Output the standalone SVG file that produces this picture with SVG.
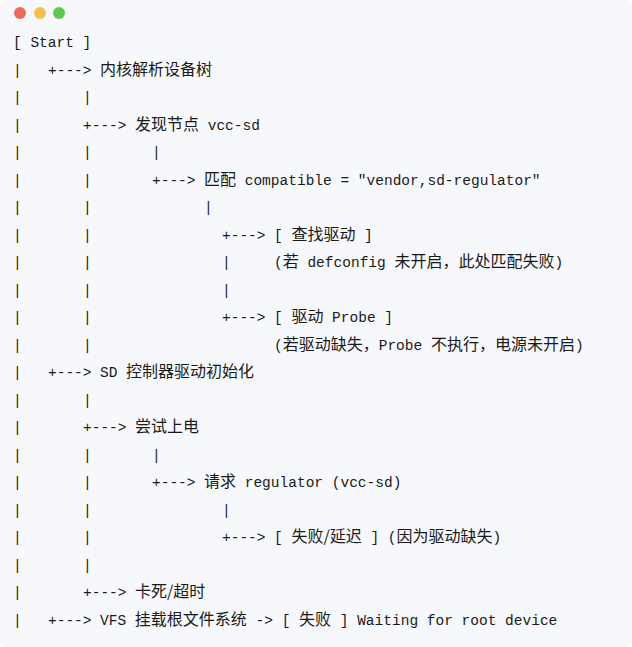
<svg xmlns="http://www.w3.org/2000/svg" width="632" height="647" viewBox="0 0 632 647">
<style>
text{font-family:"Liberation Mono","DejaVu Sans Mono",monospace;font-size:14.5px;fill:#1a1a1a;white-space:pre}
.c{font-family:"Noto Sans CJK SC","Noto Sans",sans-serif;font-size:16px}
</style>
<rect x="0" y="0" width="632" height="647" rx="8" fill="#f7f8fb"/>
<g id="window-dots">
<circle cx="20" cy="13" r="6" fill="#ed6a5e"/>
<circle cx="40" cy="13" r="6" fill="#f5bf4f"/>
<circle cx="59" cy="13" r="6" fill="#61c554"/>
</g>
<g id="connectors">
<text x="13" y="74.5">|</text><text x="48" y="74.5">+---&gt;</text>
<text x="13" y="102">|</text><text x="83" y="102">|</text>
<text x="13" y="129.6">|</text><text x="83" y="129.6">+---&gt;</text>
<text x="13" y="157.1">|</text><text x="83" y="157.1">|</text><text x="152" y="157.1">|</text>
<text x="13" y="184.6">|</text><text x="83" y="184.6">|</text><text x="152" y="184.6">+---&gt;</text>
<text x="13" y="212.1">|</text><text x="83" y="212.1">|</text><text x="204" y="212.1">|</text>
<text x="13" y="239.6">|</text><text x="83" y="239.6">|</text><text x="222" y="239.6">+---&gt;</text>
<text x="13" y="267.2">|</text><text x="83" y="267.2">|</text><text x="222" y="267.2">|</text>
<text x="13" y="294.7">|</text><text x="83" y="294.7">|</text><text x="222" y="294.7">|</text>
<text x="13" y="322.2">|</text><text x="83" y="322.2">|</text><text x="222" y="322.2">+---&gt;</text>
<text x="13" y="349.7">|</text><text x="83" y="349.7">|</text>
<text x="13" y="377.2">|</text><text x="48" y="377.2">+---&gt;</text>
<text x="13" y="404.7">|</text><text x="83" y="404.7">|</text>
<text x="13" y="432.2">|</text><text x="83" y="432.2">+---&gt;</text>
<text x="13" y="459.8">|</text><text x="83" y="459.8">|</text><text x="152" y="459.8">|</text>
<text x="13" y="487.3">|</text><text x="83" y="487.3">|</text><text x="152" y="487.3">+---&gt;</text>
<text x="13" y="514.8">|</text><text x="83" y="514.8">|</text><text x="222" y="514.8">|</text>
<text x="13" y="542.3">|</text><text x="83" y="542.3">|</text><text x="222" y="542.3">+---&gt;</text>
<text x="13" y="569.8">|</text><text x="83" y="569.8">|</text>
<text x="13" y="597.3">|</text><text x="83" y="597.3">+---&gt;</text>
<text x="13" y="624.9">|</text><text x="48" y="624.9">+---&gt;</text>
</g>
<g id="start"><text x="13" y="47">[ Start ]</text></g>
<g id="parse-dt"><text x="100" y="74.5"><tspan class="c">内核解析设备树</tspan></text></g>
<g id="find-node"><text x="135" y="129.6"><tspan class="c">发现节点</tspan> vcc-sd</text></g>
<g id="match"><text x="204" y="184.6"><tspan class="c">匹配</tspan> compatible = "vendor,sd-regulator"</text></g>
<g id="find-driver"><text x="274" y="239.6">[ <tspan class="c">查找驱动</tspan> ]</text></g>
<g id="note-defconfig"><text x="274" y="267.2">(<tspan class="c">若</tspan> defconfig <tspan class="c">未开启，此处匹配失败</tspan>)</text></g>
<g id="driver-probe"><text x="274" y="322.2">[ <tspan class="c">驱动</tspan> Probe ]</text></g>
<g id="note-probe"><text x="274" y="349.7">(<tspan class="c">若驱动缺失，</tspan>Probe <tspan class="c">不执行，电源未开启</tspan>)</text></g>
<g id="sd-init"><text x="100" y="377.2">SD <tspan class="c">控制器驱动初始化</tspan></text></g>
<g id="power-on"><text x="135" y="432.2"><tspan class="c">尝试上电</tspan></text></g>
<g id="request-reg"><text x="204" y="487.3"><tspan class="c">请求</tspan> regulator (vcc-sd)</text></g>
<g id="fail-delay"><text x="274" y="542.3">[ <tspan class="c">失败/延迟</tspan> ] (<tspan class="c">因为驱动缺失</tspan>)</text></g>
<g id="hang"><text x="135" y="597.3"><tspan class="c">卡死/超时</tspan></text></g>
<g id="vfs-mount"><text x="100" y="624.9">VFS <tspan class="c">挂载根文件系统</tspan> -&gt; [ <tspan class="c">失败</tspan> ] Waiting for root device</text></g>
</svg>
